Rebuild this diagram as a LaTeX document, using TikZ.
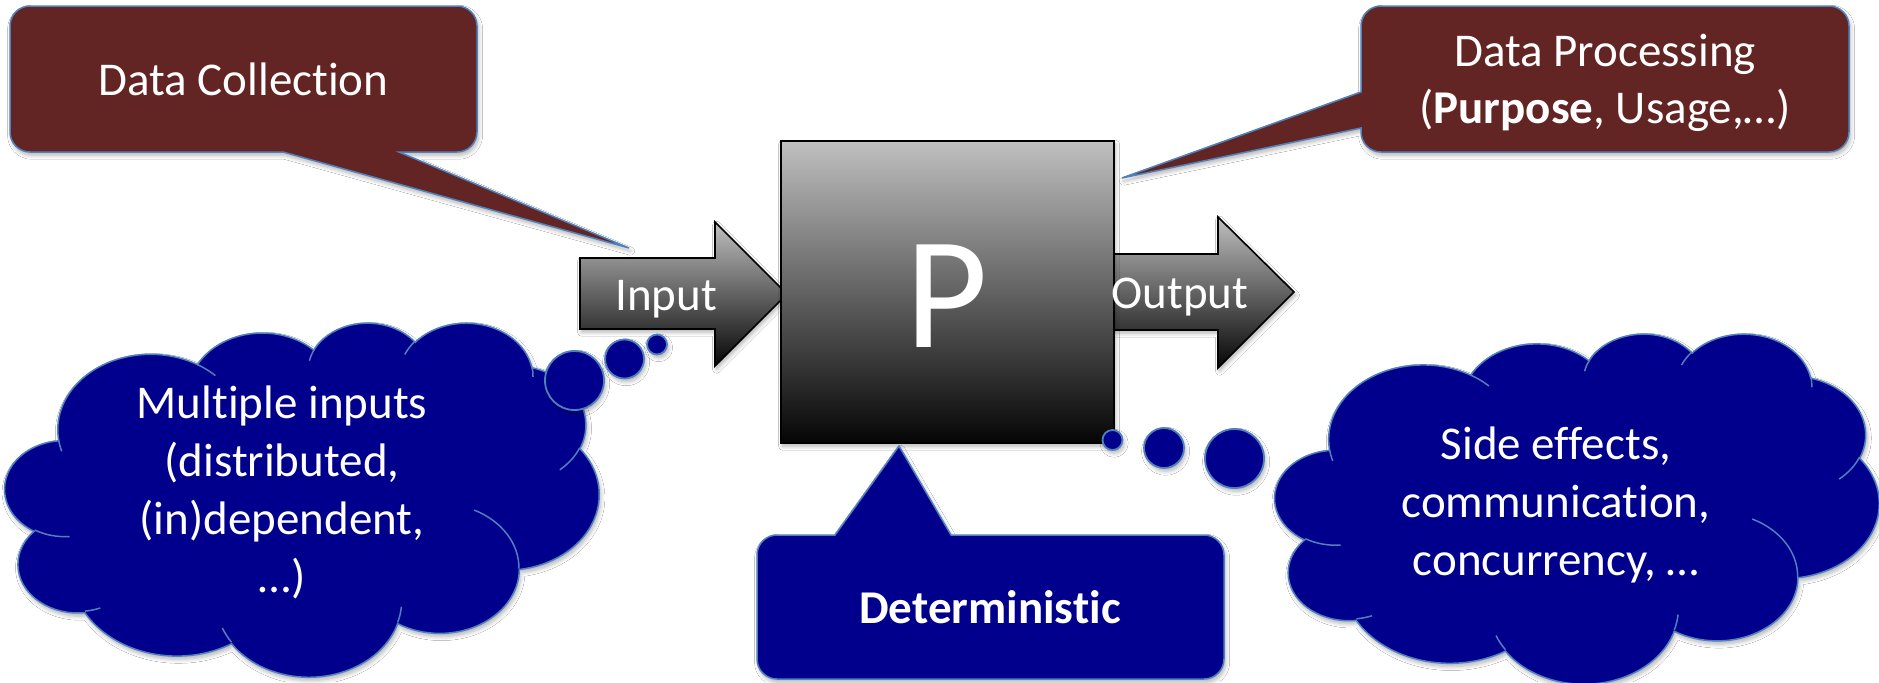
\documentclass[tikz,border=0pt]{standalone}
\usepackage{fontspec}
\setmainfont{Carlito}[Ligatures={NoCommon,NoRare,NoContextual}]
\usetikzlibrary{shadows.blur}
\definecolor{maroonfill}{HTML}{632523}
\definecolor{navyfill}{HTML}{00008C}
\definecolor{edgeblue}{HTML}{4F81BD}
\tikzset{
  softshadow/.style={blur shadow={shadow xshift=0.8pt, shadow yshift=-1.6pt, shadow opacity=30, shadow blur steps=6, shadow blur radius=2pt}},
  calloutbox/.style={fill=maroonfill, draw=edgeblue, line width=0.75pt, softshadow},
  bluecallout/.style={calloutbox, fill=navyfill},
  cloudbody/.style={fill=navyfill, draw=edgeblue, line width=0.75pt, softshadow},
  cloudinner/.style={draw=edgeblue, line width=0.75pt},
  bubble/.style={fill=navyfill, draw=edgeblue, line width=0.9pt, softshadow},
  grayshape/.style={draw=black, line width=0.8pt, top color=black!25, middle color=black!47, bottom color=black!98, softshadow},
  wtext/.style={text=white, font=\fontsize{23.5}{29}\selectfont, inner sep=0pt}
}
\newcommand{\pptcloud}[4]{%
  \begin{scope}[shift={(#1,#2)}, xscale=#3/432, yscale=#4/432]
    \path[cloudbody] (39.00,143.70)
      arc[start angle=172.25, end angle=300.36, x radius=67.53, y radius=91.90]
      arc[start angle=207.98, end angle=314.55, x radius=53.33, y radius=72.67]
      arc[start angle=206.50, end angle=322.67, x radius=43.65, y radius=59.45]
      arc[start angle=220.28, end angle=349.78, x radius=48.57, y radius=65.95]
      arc[start angle=-74.77, end angle=23.21, x radius=53.33, y radius=72.73]
      arc[start angle=-37.52, end angle=81.86, x radius=67.75, y radius=92.20]
      arc[start angle=0.46, end angle=121.97, x radius=57.85, y radius=78.67]
      arc[start angle=16.85, end angle=146.22, x radius=67.52, y radius=92.15]
      arc[start angle=58.98, end angle=150.19, x radius=77.20, y radius=105.43]
      arc[start angle=83.31, end angle=223.12, x radius=43.60, y radius=59.18]
      arc[start angle=120.36, end angle=264.11, x radius=43.45, y radius=59.45]
      -- cycle;
    \draw[cloudinner]
      (46.93,261.77) arc[start angle=85.54, end angle=120.36, x radius=43.45, y radius=59.45]
      (69.28,348.99) arc[start angle=68.24, end angle=83.31, x radius=43.60, y radius=59.18]
      (164.78,390.90) arc[start angle=146.22, end angle=158.47, x radius=67.52, y radius=92.15]
      (288.27,347.51) arc[start angle=4.74, end angle=16.85, x radius=67.52, y radius=92.15]
      (341.29,229.54) arc[start angle=-64.02, end angle=0.46, x radius=57.85, y radius=78.67]
      (417.98,153.54) arc[start angle=23.21, end angle=49.64, x radius=53.33, y radius=72.73]
      (383.24,54.26) arc[start angle=-10.22, end angle=0.83, x radius=48.57, y radius=65.95]
      (290.78,39.52) arc[start angle=203.71, end angle=220.28, x radius=48.57, y radius=65.95]
      (221.41,47.20) arc[start angle=192.28, end angle=206.50, x radius=43.65, y radius=59.45]
      (140.00,51.92) arc[start angle=-59.64, end angle=-45.74, x radius=67.53, y radius=91.90]
      (41.27,157.89) arc[start angle=163.19, end angle=172.25, x radius=67.53, y radius=91.90];
  \end{scope}}
\begin{document}
\begin{tikzpicture}[x=0.5pt, y=-0.5pt]
\useasboundingbox[fill=white] (0,0) rectangle (1879,682);

% arrows and process box
\path[grayshape] (1060,254) -- (1218,254) -- (1218,217) -- (1294,292) -- (1218,368) -- (1218,330) -- (1060,330) -- cycle;
\path[grayshape] (580,258) -- (715,258) -- (715,222) -- (787,294) -- (715,366) -- (715,329) -- (580,329) -- cycle;
\path[grayshape] (781,141) rectangle (1114,443);
\node[wtext, anchor=base] (input) at (666,310) {Input};
\node[wtext, anchor=base] (output) at (1180,308) {Output};
\node[wtext, anchor=base, font=\fontsize{80}{80}\selectfont] (proc) at (947,347) {P};

% callouts
\path[calloutbox] (243,6) [rounded corners=10pt] -- (477,6) -- (477,152) [sharp corners] -- (399,152) -- (629,248) -- (283,152) [rounded corners=10pt] -- (10,152) -- (10,6) -- cycle;
\node[wtext, anchor=base] (collect) at (243.5,95) {Data Collection};

\path[calloutbox] (1605,6) [rounded corners=10pt] -- (1849,6) -- (1849,152) -- (1361,152) [sharp corners] -- (1361,128) -- (1122,178) -- (1361,92) [rounded corners=10pt] -- (1361,6) -- cycle;
\node[wtext, anchor=base, font=\fontsize{23.5}{28.5}\selectfont] (processing) at (1605,66) {\begin{tabular}[t]{@{}c@{}}Data Processing\\(\textbf{Purpose}, Usage,…)\end{tabular}};

\path[bluecallout] (990,679) [rounded corners=10pt] -- (757,679) -- (757,535) [sharp corners] -- (835,535) -- (899,446) -- (951,535) [rounded corners=10pt] -- (1224,535) -- (1224,679) -- cycle;
\node[wtext, anchor=base] (determ) at (990,623) {\bfseries Deterministic};

% left cloud
\pptcloud{5}{322}{594}{354}
\path[bubble] (574.5,380.5) circle[radius=29.5];
\path[bubble] (624.5,359) circle[radius=19.5];
\path[bubble] (657,344.5) circle[radius=10];
\node[wtext, anchor=base] (multi) at (282,418) {\begin{tabular}[t]{@{}c@{}}Multiple inputs\\(distributed,\\(in)dependent,\\…)\end{tabular}};

% right cloud
\pptcloud{1275}{333}{604}{350}
\path[bubble] (1112.5,440) circle[radius=10];
\path[bubble] (1164,448) circle[radius=20];
\path[bubble] (1234.5,458.5) circle[radius=29.5];
\node[wtext, anchor=base] (side) at (1556,459) {\begin{tabular}[t]{@{}c@{}}Side effects,\\communication,\\concurrency, …\end{tabular}};
\end{tikzpicture}
\end{document}
